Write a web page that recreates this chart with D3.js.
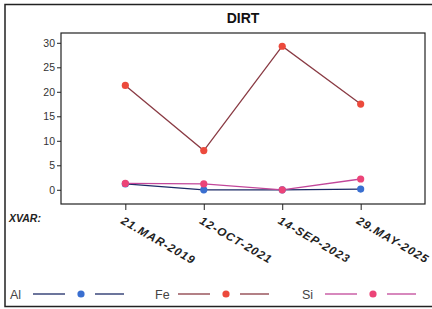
<!DOCTYPE html>
<html>
<head>
  <meta charset="utf-8">
  <title>DIRT</title>
  <script src="https://cdn.jsdelivr.net/npm/d3@7/dist/d3.min.js"></script>
  <style>
    body { margin: 0; background: #fff; }
    svg { font-family: "Liberation Sans", Arial, sans-serif; }
  </style>
</head>
<body>
<svg id="chart" width="432" height="309"></svg>
<script>
// categories and values
var dates = ['21.MAR-2019', '12-OCT-2021', '14-SEP-2023', '29.MAY-2025'];
var alVals = [1.2, 0.0, 0.0, 0.15];
var feVals = [21.3, 8.0, 29.3, 17.5];
var siVals = [1.3, 1.2, 0.0, 2.2];
var yTicks = [0, 5, 10, 15, 20, 25, 30];

var series = [
  {name: 'Al', values: alVals, line: '#1c2a66', dot: '#3a6fd0'},
  {name: 'Fe', values: feVals, line: '#8a3b44', dot: '#ec4a3c'},
  {name: 'Si', values: siVals, line: '#c2479a', dot: '#ec4478'}
];

var svg = d3.select('#chart');

// outer frame
svg.append('rect')
    .attr('x', 5).attr('y', 4.5)
    .attr('width', 440).attr('height', 302)
    .attr('fill', 'none').attr('stroke', '#222').attr('stroke-width', 1.5);

var plot = {left: 61, top: 33, right: 425, bottom: 204};

var x = d3.scalePoint()
    .domain(dates)
    .range([plot.left, plot.right])
    .padding(0.82);

var y = d3.scaleLinear()
    .domain([-2.9, 32])
    .range([plot.bottom, plot.top]);

svg.append('rect')
    .attr('x', plot.left).attr('y', plot.top)
    .attr('width', plot.right - plot.left).attr('height', plot.bottom - plot.top)
    .attr('fill', 'none').attr('stroke', '#222').attr('stroke-width', 1.2);

svg.append('text')
    .attr('x', (plot.left + plot.right) / 2).attr('y', 23)
    .attr('text-anchor', 'middle')
    .attr('font-size', 14).attr('font-weight', 'bold')
    .attr('fill', '#111')
    .text('DIRT');

// y axis
var yAxis = svg.append('g')
    .attr('transform', 'translate(' + plot.left + ',0)')
    .call(d3.axisLeft(y).tickValues(yTicks).tickSize(4).tickPadding(2));
yAxis.select('.domain').remove();
yAxis.selectAll('text').attr('font-size', 10.5).attr('fill', '#333')
    .attr('font-family', '"Liberation Sans", Arial, sans-serif');
yAxis.selectAll('line').attr('stroke', '#222');

// x axis
var xAxis = svg.append('g')
    .attr('transform', 'translate(0,' + plot.bottom + ')')
    .call(d3.axisBottom(x).tickSize(6).tickFormat(''));
xAxis.select('.domain').remove();
xAxis.selectAll('line').attr('stroke', '#222');

svg.selectAll('.xlab')
    .data(dates)
    .enter().append('text')
    .attr('class', 'xlab')
    .attr('transform', function(d) {
      return 'translate(' + (x(d) - 5) + ',' + (plot.bottom + 19) + ') rotate(30)';
    })
    .attr('font-size', 11.5).attr('font-weight', 'bold').attr('font-style', 'italic')
    .attr('letter-spacing', 1.1)
    .attr('fill', '#222')
    .text(function(d) { return d; });

svg.append('text')
    .attr('x', 9).attr('y', 222)
    .attr('font-size', 10.5).attr('font-weight', 'bold').attr('font-style', 'italic')
    .attr('fill', '#222')
    .text('XVAR:');

// lines and markers
var line = d3.line()
    .x(function(d, i) { return x(dates[i]); })
    .y(function(d) { return y(d); });

series.forEach(function(s) {
  svg.append('path')
      .datum(s.values)
      .attr('d', line)
      .attr('fill', 'none')
      .attr('stroke', s.line)
      .attr('stroke-width', 1.3);
});

series.forEach(function(s) {
  svg.selectAll(null)
      .data(s.values)
      .enter().append('circle')
      .attr('cx', function(d, i) { return x(dates[i]); })
      .attr('cy', function(d) { return y(d); })
      .attr('r', 3.6)
      .attr('fill', s.dot);
});

// legend
var legendX = [10, 155, 302];
var legend = svg.selectAll('.leg')
    .data(series)
    .enter().append('g')
    .attr('class', 'leg')
    .attr('transform', function(d, i) { return 'translate(' + legendX[i] + ',294)'; });

legend.append('text')
    .attr('x', 0).attr('y', 4.5)
    .attr('font-size', 12.5).attr('fill', '#444')
    .text(function(d) { return d.name; });
legend.append('line')
    .attr('x1', 23).attr('x2', 55).attr('y1', 0).attr('y2', 0)
    .attr('stroke', function(d) { return d.line; }).attr('stroke-width', 1.3);
legend.append('circle')
    .attr('cx', 71).attr('cy', 0).attr('r', 3.6)
    .attr('fill', function(d) { return d.dot; });
legend.append('line')
    .attr('x1', 85).attr('x2', 114).attr('y1', 0).attr('y2', 0)
    .attr('stroke', function(d) { return d.line; }).attr('stroke-width', 1.3);
</script>
</body>
</html>
